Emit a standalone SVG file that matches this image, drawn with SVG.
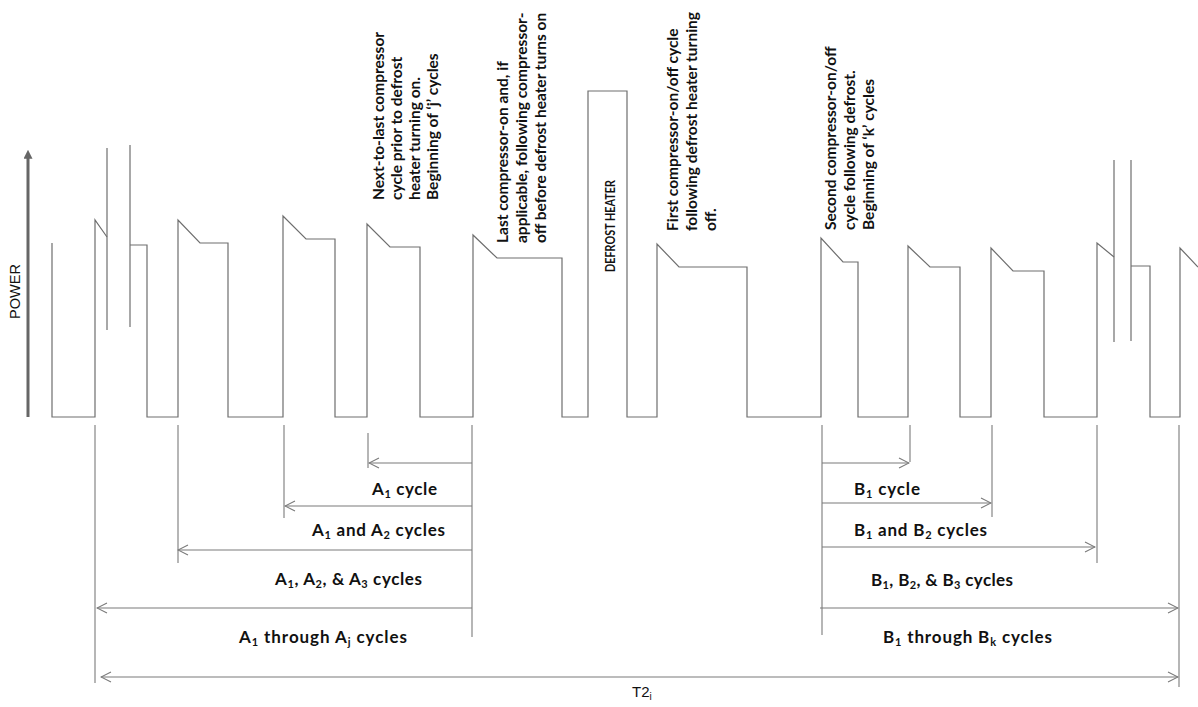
<svg xmlns="http://www.w3.org/2000/svg" width="1198" height="707" viewBox="0 0 1198 707">
<style>
.w{fill:none;stroke:#6e6e6e;stroke-width:1.2;stroke-linejoin:miter}
.d{fill:none;stroke:#7a7a7a;stroke-width:1.1}
.rt{font-family:Lato,"Liberation Sans",sans-serif;font-weight:bold;font-size:15.5px;fill:#111}
.lb{font-family:Lato,"Liberation Sans",sans-serif;font-weight:bold;font-size:17px;fill:#111}
.sub{font-size:11px}
.pl{font-family:"Liberation Sans",Arial,sans-serif;font-size:14px;fill:#111}
</style>
<defs>
<marker id="ah" viewBox="0 0 12 12" refX="11" refY="6" markerWidth="12" markerHeight="12" markerUnits="userSpaceOnUse" orient="auto-start-reverse">
<path d="M1,1 L11,6 L1,11" fill="none" stroke="#7a7a7a" stroke-width="1.1"/>
</marker>
<marker id="pa" viewBox="0 0 10 10" refX="2" refY="5" markerWidth="9" markerHeight="9" markerUnits="userSpaceOnUse" orient="auto">
<path d="M0,0 L10,5 L0,10 Z" fill="#666"/>
</marker>
</defs>
<rect width="1198" height="707" fill="#fff"/>

<g id="power-axis">
<line x1="28" y1="417" x2="28" y2="157" stroke="#666" stroke-width="3" marker-end="url(#pa)"/>
<text class="pl" transform="translate(20,319) rotate(-90)" textLength="55" lengthAdjust="spacingAndGlyphs">POWER</text>
</g>

<g id="waveform">
<polyline class="w" points="52,243 52,417 95,417 95,220 107,237"/>
<line class="w" x1="107" y1="148" x2="107" y2="330"/>
<line class="w" x1="130" y1="145" x2="130" y2="327"/>
<polyline class="w" points="130,245 147,245 147,417 178,417 178,220 200,243 228,243 228,417 283,417 283,216 306,239 335,239 335,417 367,417 367,224 390,247 420,247 420,417 473,417 473,235 497,258 562,258 562,417 588,417 588,91 627,91 627,417 657,417 657,244 679,267 747,267 747,417 821,417 821,238 843,262 858,262 858,417 908,417 908,246 930,267 960,267 960,417 991,417 991,248 1013,271 1044,271 1044,417 1097,417 1097,243 1114,257"/>
<line class="w" x1="1114" y1="160" x2="1114" y2="342"/>
<line class="w" x1="1131" y1="160" x2="1131" y2="341"/>
<polyline class="w" points="1131,266 1150,266 1150,417 1180,417 1180,248 1198,267"/>
</g>

<g id="note-next-to-last">
<text class="rt" transform="translate(384,200) rotate(-90)">Next-to-last compressor</text>
<text class="rt" transform="translate(402,200) rotate(-90)">cycle prior to defrost</text>
<text class="rt" transform="translate(420,200) rotate(-90)">heater turning on.</text>
<text class="rt" transform="translate(438,200) rotate(-90)">Beginning of ‘j’ cycles</text>
</g>

<g id="note-last">
<text class="rt" transform="translate(508,243) rotate(-90)">Last compressor-on and, if</text>
<text class="rt" transform="translate(527,243) rotate(-90)">applicable, following compressor-</text>
<text class="rt" transform="translate(546,243) rotate(-90)">off before defrost heater turns on</text>
</g>

<g id="defrost-heater">
<text class="rt" transform="translate(615,272) rotate(-90)" textLength="92" lengthAdjust="spacingAndGlyphs" style="font-size:14px">DEFROST HEATER</text>
</g>

<g id="note-first">
<text class="rt" transform="translate(678,231) rotate(-90)">First compressor-on/off cycle</text>
<text class="rt" transform="translate(697,231) rotate(-90)">following defrost heater turning</text>
<text class="rt" transform="translate(716,231) rotate(-90)">off.</text>
</g>

<g id="note-second">
<text class="rt" transform="translate(836,230) rotate(-90)">Second compressor-on/off</text>
<text class="rt" transform="translate(855,230) rotate(-90)">cycle following defrost.</text>
<text class="rt" transform="translate(874,230) rotate(-90)">Beginning of ‘k’ cycles</text>
</g>

<g id="connectors">
<line class="d" x1="95" y1="425" x2="95" y2="683"/>
<line class="d" x1="178" y1="425" x2="178" y2="563"/>
<line class="d" x1="284" y1="425" x2="284" y2="518"/>
<line class="d" x1="368" y1="433" x2="368" y2="468"/>
<line class="d" x1="472" y1="425" x2="472" y2="637"/>
<line class="d" x1="822" y1="425" x2="822" y2="635"/>
<line class="d" x1="910" y1="425" x2="910" y2="462"/>
<line class="d" x1="992" y1="425" x2="992" y2="517"/>
<line class="d" x1="1097" y1="425" x2="1097" y2="563"/>
<line class="d" x1="1179" y1="425" x2="1179" y2="687"/>

<line class="d" x1="472" y1="463" x2="369" y2="463" marker-end="url(#ah)"/>
<line class="d" x1="472" y1="506" x2="285" y2="506" marker-end="url(#ah)"/>
<line class="d" x1="472" y1="550" x2="178" y2="550" marker-end="url(#ah)"/>
<line class="d" x1="472" y1="608" x2="97" y2="608" marker-end="url(#ah)"/>

<line class="d" x1="822" y1="463" x2="909" y2="463" marker-end="url(#ah)"/>
<line class="d" x1="822" y1="503" x2="991" y2="503" marker-end="url(#ah)"/>
<line class="d" x1="822" y1="547" x2="1095" y2="547" marker-end="url(#ah)"/>
<line class="d" x1="820" y1="608" x2="1178" y2="608" marker-end="url(#ah)"/>

<line class="d" x1="101" y1="677" x2="1178" y2="677" marker-start="url(#ah)" marker-end="url(#ah)"/>
</g>

<g id="labels">
<text class="lb" x="372" y="495" textLength="65">A<tspan class="sub" dy="3">1</tspan><tspan dy="-3"> cycle</tspan></text>
<text class="lb" x="312" y="536" textLength="133">A<tspan class="sub" dy="3">1</tspan><tspan dy="-3"> and A</tspan><tspan class="sub" dy="3">2</tspan><tspan dy="-3"> cycles</tspan></text>
<text class="lb" x="275" y="585" textLength="147">A<tspan class="sub" dy="3">1</tspan><tspan dy="-3">, A</tspan><tspan class="sub" dy="3">2</tspan><tspan dy="-3">, &amp; A</tspan><tspan class="sub" dy="3">3</tspan><tspan dy="-3"> cycles</tspan></text>
<text class="lb" x="239" y="643" textLength="168">A<tspan class="sub" dy="3">1</tspan><tspan dy="-3"> through A</tspan><tspan class="sub" dy="3">j</tspan><tspan dy="-3"> cycles</tspan></text>

<text class="lb" x="854" y="495" textLength="66">B<tspan class="sub" dy="3">1</tspan><tspan dy="-3"> cycle</tspan></text>
<text class="lb" x="854" y="536" textLength="133">B<tspan class="sub" dy="3">1</tspan><tspan dy="-3"> and B</tspan><tspan class="sub" dy="3">2</tspan><tspan dy="-3"> cycles</tspan></text>
<text class="lb" x="871" y="586" textLength="142">B<tspan class="sub" dy="3">1</tspan><tspan dy="-3">, B</tspan><tspan class="sub" dy="3">2</tspan><tspan dy="-3">, &amp; B</tspan><tspan class="sub" dy="3">3</tspan><tspan dy="-3"> cycles</tspan></text>
<text class="lb" x="883" y="643" textLength="169">B<tspan class="sub" dy="3">1</tspan><tspan dy="-3"> through B</tspan><tspan class="sub" dy="3">k</tspan><tspan dy="-3"> cycles</tspan></text>

<text class="pl" x="632" y="697" style="font-size:15px">T2<tspan style="font-size:10px" dy="3">i</tspan></text>
</g>
</svg>
